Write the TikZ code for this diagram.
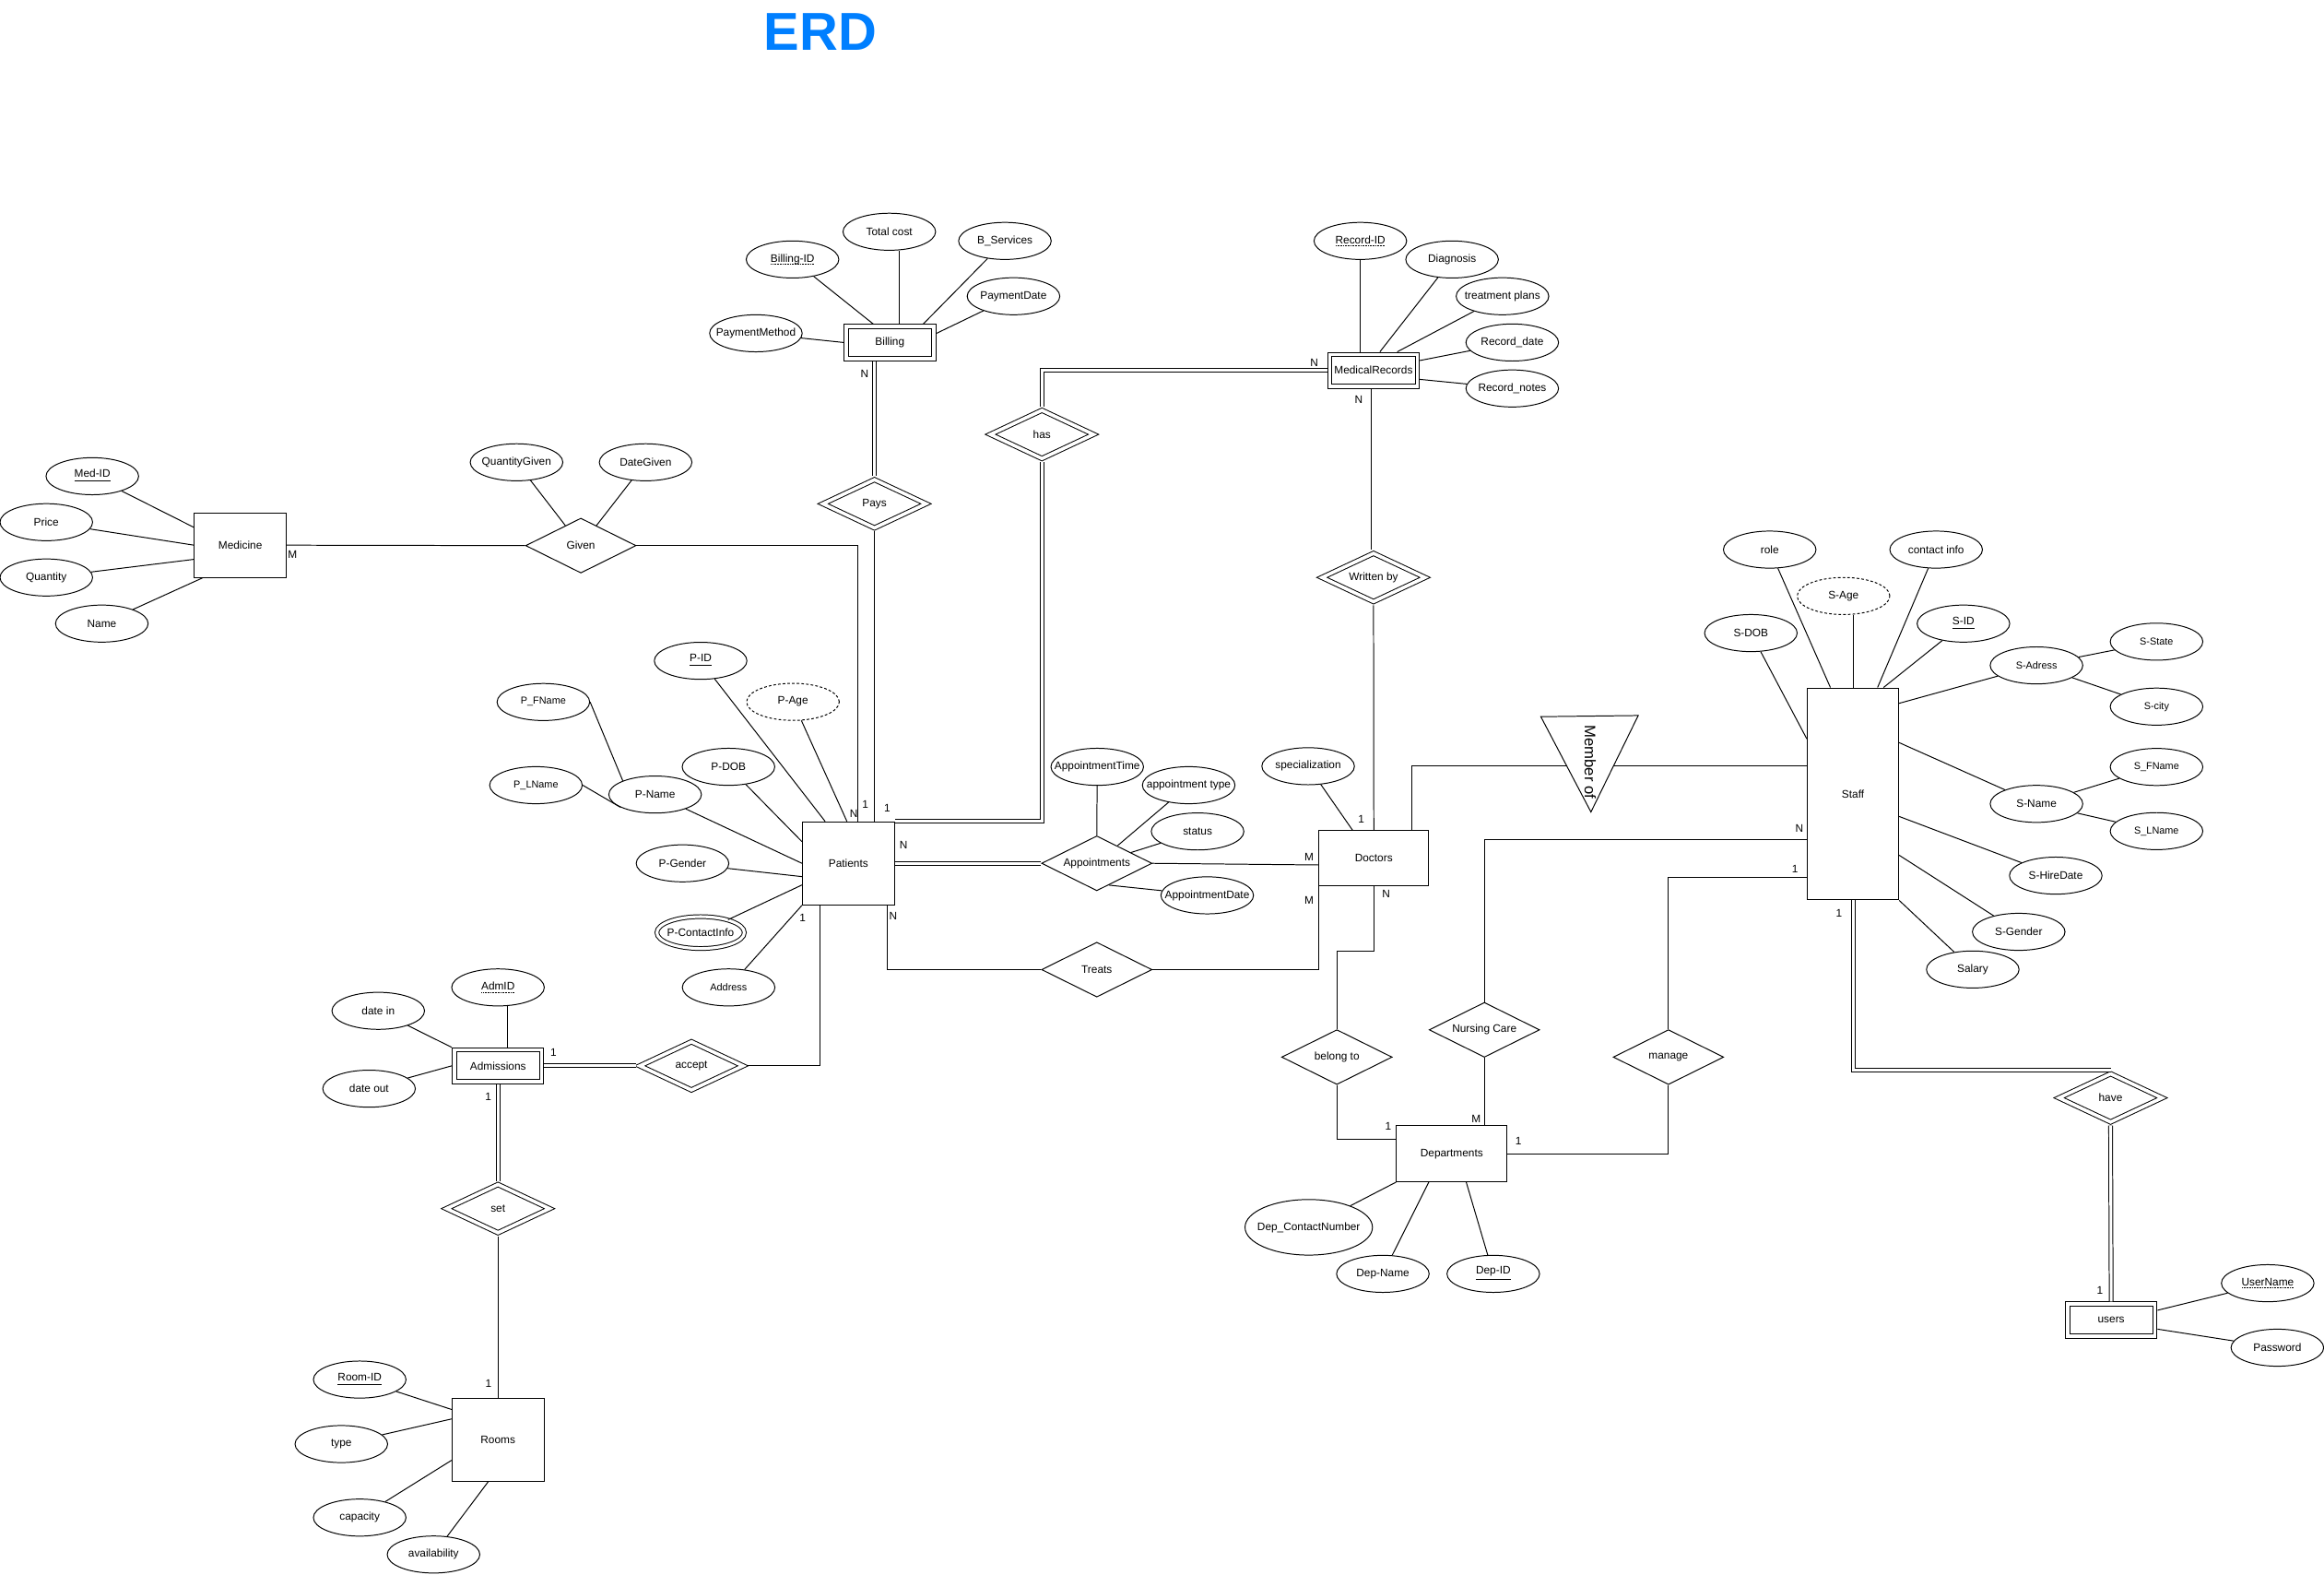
\documentclass[tikz,border=0pt]{standalone}
\usepackage{fontspec}
\setmainfont{Liberation Sans}
\usetikzlibrary{shapes.geometric,calc}
\definecolor{erdblue}{RGB}{0,127,255}
% dotted underline for partial keys
\newcommand{\dotul}[1]{\setbox0\hbox{#1}\leavevmode\rlap{\raisebox{-0.4ex}{\hbox to \wd0{\xleaders\hbox to 0.55pt{\hss\vrule width 0.28pt height 0.22pt\hss}\hfill}}}\box0}

\begin{document}
\begin{tikzpicture}[x=0.02cm, y=-0.02cm, line width=0.35pt,
  every node/.style={font=\fontsize{4.2}{5}\selectfont, inner sep=0pt},
  entity/.style={draw, rectangle, minimum width=1.24cm, minimum height=0.5cm},
  weakentity/.style={draw, rectangle, double, double distance=1.3pt, outer sep=1pt, minimum width=1.18cm, minimum height=0.43cm},
  attr/.style={draw, ellipse, inner xsep=-0.2cm, minimum width=1.25cm, minimum height=0.5cm},
  derivedattr/.style={attr, dash pattern=on 1pt off 0.8pt},
  multiattr/.style={attr, double, double distance=1.1pt, minimum width=1.18cm, minimum height=0.43cm},
  smalltext/.style={font=\fontsize{3.85}{4.5}\selectfont},
  rel/.style={draw, diamond, aspect=2, minimum width=1.49cm, minimum height=0.74cm},
  weakrel/.style={draw, diamond, aspect=2, double, double distance=1.3pt, outer sep=1pt, minimum width=1.42cm, minimum height=0.68cm},
  dbl/.style={double, double distance=1.1pt}]

  % Canvas
  \path[use as bounding box, fill=white] (0,0) rectangle (1568,1062);
  \node[font=\fontsize{20.5}{24}\selectfont\bfseries, text=erdblue] (title) at (553.5,21.8) {ERD};

  % Entities
  \node[entity, minimum height=0.87cm] (medicine) at (162.1,367.7) {Medicine};
  \node[weakentity] (billing) at (600.4,231) {Billing};
  \node[weakentity] (records) at (926.7,249.8) {MedicalRecords};
  \node[entity, minimum height=1.12cm] (patients) at (572.4,582.3) {Patients};
  \node[entity, minimum width=1.486cm, minimum height=0.746cm] (doctors) at (926.9,579) {Doctors};
  \node[entity, minimum width=1.234cm, minimum height=2.86cm] (staff) at (1250.2,535.5) {Staff};
  \node[weakentity] (admissions) at (336,718.9) {Admissions};
  \node[entity, minimum height=1.12cm] (rooms) at (336,971) {Rooms};
  \node[entity, minimum width=1.492cm, minimum height=0.754cm] (departments) at (979.5,778.2) {Departments};
  \node[weakentity] (users) at (1424.4,890.4) {users};

  % Relationships
  \node[rel] (given) at (391.9,368) {Given};
  \node[weakrel] (pays) at (590,339.8) {Pays};
  \node[weakrel] (has) at (703,293) {has};
  \node[weakrel] (written) at (926.7,389.5) {Written by};
  \node[rel] (appointments) at (740,582.3) {Appointments};
  \node[rel] (treats) at (740,654) {Treats};
  \node[weakrel] (accept) at (466.5,718.9) {accept};
  \node[weakrel] (setrel) at (336,815.2) {set};
  \node[rel] (belong) at (902,713) {belong to};
  \node[rel] (nursing) at (1001.5,694.6) {Nursing Care};
  \node[rel] (manage) at (1125.7,713) {manage};
  \node[weakrel] (have) at (1424,740.5) {have};

  % Member of (drawn as a triangle)
  \coordinate (memL) at (1039.6,483.4);
  \coordinate (memR) at (1105.3,482.6);
  \coordinate (memB) at (1073.4,547.7);
  \draw (memL) -- (memR) -- (memB) -- cycle;
  \node[rotate=-90, font=\fontsize{5.9}{7}\selectfont] (member) at (1073,514) {Member of};
  \coordinate (memIn) at (1057,516.6);
  \coordinate (memOut) at (1088.6,516.6);

  % Medicine attributes
  \node[attr] (medid) at (62.3,321.2) {\underline{Med-ID}};
  \node[attr] (price) at (31.25,352.2) {Price};
  \node[attr] (quantity) at (31.25,389.5) {Quantity};
  \node[attr] (medname) at (68.7,420.6) {Name};
  \node[attr] (qtygiven) at (348.5,311.8) {QuantityGiven};
  \node[attr] (dategiven) at (435.6,311.8) {DateGiven};

  % Billing attributes
  \node[attr] (billid) at (534.7,175) {\dotul{Billing-ID}};
  \node[attr] (totalcost) at (600,156.3) {Total cost};
  \node[attr] (bservices) at (678,162.5) {B\_Services};
  \node[attr] (paydate) at (683.8,199.8) {PaymentDate};
  \node[attr] (paymethod) at (510,224.8) {PaymentMethod};

  % Medical record attributes
  \node[attr] (recid) at (917.8,162.5) {\dotul{Record-ID}};
  \node[attr] (diagnosis) at (979.7,175) {Diagnosis};
  \node[attr] (treatment) at (1013.7,199.8) {treatment plans};
  \node[attr] (recdate) at (1020.3,231) {Record\_date};
  \node[attr] (recnotes) at (1020.3,262) {Record\_notes};

  % Patient attributes
  \node[attr] (pid) at (472.7,445.7) {\underline{P-ID}};
  \node[derivedattr] (page) at (535,473.4) {P-Age};
  \node[attr] (pdob) at (491.5,517.2) {P-DOB};
  \node[attr] (pname) at (442,535.9) {P-Name};
  \node[attr, smalltext] (pfname) at (366.6,473.5) {P\_FName};
  \node[attr, smalltext] (plname) at (361.6,529.6) {P\_LName};
  \node[attr] (pgender) at (460.5,582.3) {P-Gender};
  \node[multiattr] (pcontact) at (472.7,629) {P-ContactInfo};
  \node[attr, smalltext] (paddress) at (491.6,666) {Address};

  % Appointment and doctor attributes
  \node[attr] (apptime) at (740.3,517.2) {AppointmentTime};
  \node[attr] (apptype) at (802,529.6) {appointment type};
  \node[attr] (appstatus) at (808,560.8) {status};
  \node[attr] (appdate) at (814.5,603.9) {AppointmentDate};
  \node[attr] (special) at (882.6,516.8) {specialization};

  % Staff attributes
  \node[attr] (role) at (1194,370.7) {role};
  \node[attr] (contact) at (1306.3,370.7) {contact info};
  \node[derivedattr] (sage) at (1243.8,402) {S-Age};
  \node[attr] (sdob) at (1181.3,427) {S-DOB};
  \node[attr] (sid) at (1324.7,420.6) {\underline{S-ID}};
  \node[attr, smalltext] (sadress) at (1374,448.8) {S-Adress};
  \node[attr, smalltext] (sstate) at (1455,432.8) {S-State};
  \node[attr, smalltext] (scity) at (1455,476.6) {S-city};
  \node[attr, smalltext] (sfname) at (1455,517.3) {S\_FName};
  \node[attr] (sname) at (1374,542.2) {S-Name};
  \node[attr, smalltext] (slname) at (1455,560.6) {S\_LName};
  \node[attr] (shire) at (1387,590.6) {S-HireDate};
  \node[attr] (sgender) at (1362,628.5) {S-Gender};
  \node[attr] (salary) at (1331,653.9) {Salary};

  % Admission and room attributes
  \node[attr] (admid) at (336,666) {\dotul{AdmID}};
  \node[attr] (datein) at (255.2,681.8) {date in};
  \node[attr] (dateout) at (249,734.3) {date out};
  \node[attr] (roomid) at (242.7,930.5) {\underline{Room-ID}};
  \node[attr] (rtype) at (230.3,974) {type};
  \node[attr] (capacity) at (242.7,1023.6) {capacity};
  \node[attr] (avail) at (292.5,1048.5) {availability};

  % Department and user attributes
  \node[attr, minimum width=1.72cm, minimum height=0.75cm] (depcontact) at (883,827.8) {Dep\_ContactNumber};
  \node[attr] (depname) at (933,859.2) {Dep-Name};
  \node[attr] (depid) at (1007.5,859.2) {\underline{Dep-ID}};
  \node[attr] (username) at (1530,865.5) {\dotul{UserName}};
  \node[attr] (password) at (1536.5,909) {Password};

  % Attribute lines
  \draw (medid) -- (medicine.159);
  \draw (price) -- (medicine.west);
  \draw (quantity) -- (medicine.197);
  \draw (medname) -- (medicine.221);
  \draw (qtygiven) -- (given);
  \draw (dategiven) -- (given);
  \draw (billid) -- (billing.132);
  \draw (billing.63 |- totalcost.south) -- (billing.63);
  \draw (bservices) -- (billing.29);
  \draw (paydate) -- (billing.11);
  \draw (paymethod) -- (billing.west);
  \draw (recid) -- (recid |- records.north);
  \draw (diagnosis) -- (records.71);
  \draw (treatment) -- (records.38);
  \draw (recdate) -- (records.12);
  \draw (recnotes) -- (records.-11);
  \draw (pid) -- (patients.119);
  \draw (page) -- (patients.92);
  \draw (pdob) -- (patients.155);
  \draw (pname) -- (patients.west);
  \draw (pfname.east) -- (pname.157);
  \draw (plname.east) -- (pname.200);
  \draw (pgender) -- (patients.196);
  \draw (pcontact) -- (patients.205);
  \draw (paddress) -- (patients.south west);
  \draw (apptime) -- (appointments.north);
  \draw (apptype) -- (appointments);
  \draw (appstatus) -- (appointments);
  \draw (appdate) -- (appointments.-61);
  \draw (special) -- (doctors.127);
  \draw (role) -- (staff.102);
  \draw (staff.north |- sage.south) -- (staff.north);
  \draw (contact) -- (staff.77);
  \draw (sid) -- (staff.74);
  \draw (sdob) -- (staff.130);
  \draw (sadress) -- (staff.63);
  \draw (sadress) -- (sstate);
  \draw (sadress) -- (scity);
  \draw (sname) -- (staff.48);
  \draw (sname) -- (sfname);
  \draw (sname) -- (slname);
  \draw (shire) -- (staff.-26);
  \draw (sgender) -- (staff.-53);
  \draw (salary) -- (staff.south east);
  \coordinate (admtop) at ($(admissions.north)+(6.5,0)$);
  \draw (admtop |- admid.south) -- (admtop);
  \draw (datein) -- (admissions.north west);
  \draw (dateout) -- (admissions.west);
  \draw (roomid) -- (rooms.147);
  \draw (rtype) -- (rooms.156);
  \draw (capacity) -- (rooms.204);
  \draw (avail) -- (rooms.257);
  \draw (depcontact) -- (departments.south west);
  \draw (depname) -- (departments.231);
  \draw (depid) -- (departments.-63);
  \draw (username) -- (users.12);
  \draw (password) -- (users.-11);

  % Relationship lines
  \coordinate (patGiven) at ($(patients.north)+(6.3,0)$);
  \coordinate (patTreats) at ($(patients.south east)+(-4.8,0)$);
  \coordinate (patAccept) at ($(patients.south west)+(12.2,0)$);
  \coordinate (docMember) at ($(doctors.north east)+(-12,0)$);
  \coordinate (staffNursing) at ($(staff.west)+(0,31.1)$);
  \coordinate (staffManage) at ($(staff.west)+(0,56.5)$);
  \draw (medicine.east) -- (given.west);
  \draw (given.east) -| (patGiven);
  \draw[dbl] (pays.north |- billing.south) -- (pays.north);
  \draw (pays.south) -- (pays.south |- patients.north);
  \draw[dbl] (has.north) |- (records.west);
  \draw[dbl] (has.south) |- (patients.north east);
  \draw[dbl] (records.south) -- (written.north);
  \draw (written.south) -- (doctors.north);
  \draw[dbl] (patients.east) -- (appointments.west);
  \draw (appointments.east) -- ($(doctors.west)+(0,4.4)$);
  \draw (patTreats) |- (treats.west);
  \draw (treats.east) -| (doctors.south west);
  \draw (patAccept) |- (accept.east);
  \draw[dbl] (accept.west) -- (admissions.east);
  \draw[dbl] (admissions.south) -- (setrel.north);
  \draw (setrel.south) -- (rooms.north);
  \draw (doctors.south) -- ++(0,43.5) -| (belong.north);
  \draw (belong.south) |- ($(departments.west)+(0,-9.5)$);
  \draw (staffNursing) -| (nursing.north);
  \draw (nursing.south) -- (nursing.south |- departments.north);
  \draw (staffManage) -| (manage.north);
  \draw (manage.south) |- (departments.east);
  \draw (docMember) |- (memIn);
  \draw (memOut) -- (memOut -| staff.west);
  \draw[dbl] (staff.south) |- (have.north);
  \draw[dbl] (have.south) -- (users.north);

  % Cardinalities
  \node (cMed) at (197.4,373.8) {M};
  \node (cBill) at (583.3,252.3) {N};
  \node (cRecHas) at (886.7,245) {N};
  \node (cRecWr) at (916.7,269.5) {N};
  \node (cPatGiven) at (576,548.7) {N};
  \node (cPatPays) at (583.9,542.7) {1};
  \node (cPatHas) at (598.6,545.2) {1};
  \node (cPatApp) at (609.7,570) {N};
  \node (cDocApp) at (883.3,578) {M};
  \node (cDocWr) at (918.5,552.7) {1};
  \node (cDocTr) at (883.3,607.4) {M};
  \node (cDocBel) at (935.3,603.2) {N};
  \node (cPatTr) at (602.6,617.7) {N};
  \node (cPatAcc) at (541.5,619.2) {1};
  \node (cAdmAcc) at (373.4,710.2) {1};
  \node (cAdmSet) at (329.4,740) {1};
  \node (cRoomSet) at (329.6,933.3) {1};
  \node (cDepBel) at (936.6,759.8) {1};
  \node (cDepNur) at (996,755) {M};
  \node (cDepMan) at (1024.5,769.5) {1};
  \node (cStaffNur) at (1214,558.8) {N};
  \node (cStaffMan) at (1211,586) {1};
  \node (cStaffHave) at (1240.7,615.7) {1};
  \node (cUsers) at (1416.8,870.6) {1};
\end{tikzpicture}
\end{document}
